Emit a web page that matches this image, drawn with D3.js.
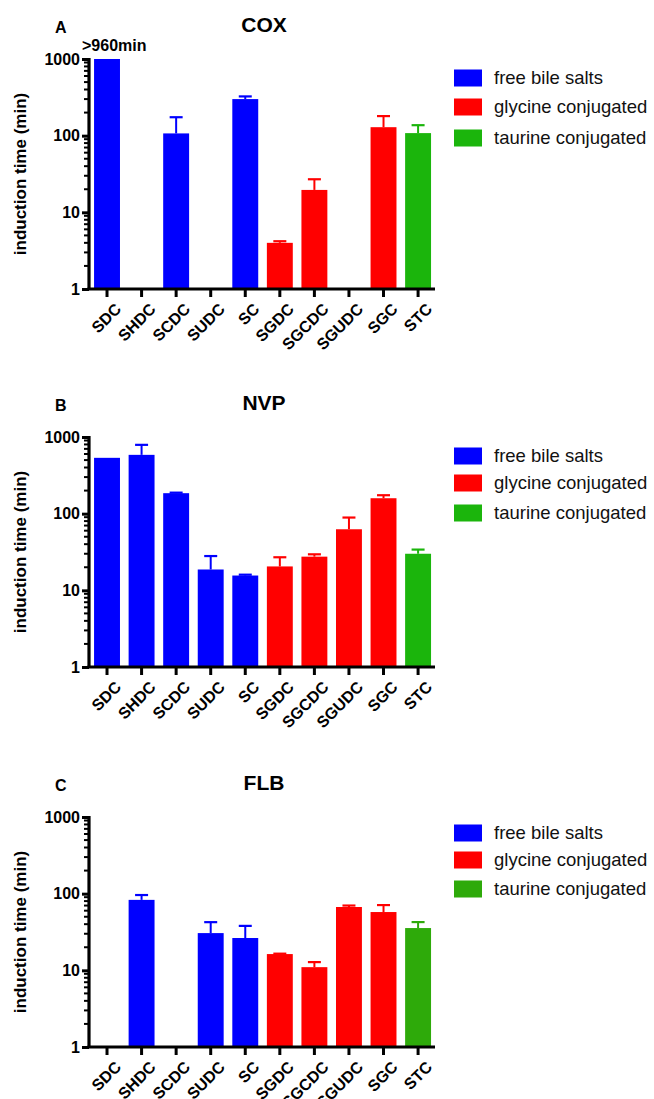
<!DOCTYPE html>
<html>
<head>
<meta charset="utf-8">
<script src="https://cdn.jsdelivr.net/npm/d3@7"></script>
<style>
  body { margin: 0; background: #fff; }
  svg text { font-family: Arial, "Liberation Sans", sans-serif; }
</style>
</head>
<body>
<svg id="chart" width="654" height="1099"></svg>
<script>
const categories = ["SDC", "SHDC", "SCDC", "SUDC", "SC", "SGDC", "SGCDC", "SGUDC", "SGC", "STC"];
const groups = ["free", "free", "free", "free", "free", "glycine", "glycine", "glycine", "glycine", "taurine"];
const legendLabels = ["free bile salts", "glycine conjugated", "taurine conjugated"];
const yTicks = [1, 10, 100, 1000];

// mean and upper error (SEM) per bile salt, null = no induction
const coxMean = [1000, null, 107, null, 300, 4.0, 19.6, null, 129, 108];
const coxErr  = [null, null, 174, null, 325, 4.2, 27, null, 180, 137];
const nvpMean = [535, 585, 185, 18.7, 15.6, 20.5, 27.5, 62.6, 159, 30];
const nvpErr  = [null, 790, 188, 28, 16, 27, 29.5, 89, 174, 34];
const flbMean = [null, 83, null, 30.6, 26.4, 16.3, 11, 67, 57.6, 35.6];
const flbErr  = [null, 96, null, 42.5, 38, 16.5, 12.8, 70, 71, 42.6];

const panels = [
  {letter: "A", title: "COX", mean: coxMean, err: coxErr, top: 59, green: "#1bb50c", note: ">960min", legendY: [78, 107, 138]},
  {letter: "B", title: "NVP", mean: nvpMean, err: nvpErr, top: 437, green: "#1bb50c", legendY: [456, 483, 513]},
  {letter: "C", title: "FLB", mean: flbMean, err: flbErr, top: 817, green: "#2eaa0a", legendY: [833, 860, 889]}
];

const svg = d3.select("#chart");
const axisX = 89;

let x = d3.scaleBand()
  .domain(categories)
  .range([90.6, 434.5])
  .paddingInner(0.25)
  .paddingOuter(0.1);

panels.forEach(p => {
  let bottom = p.top + 230;
  let color = d3.scaleOrdinal()
    .domain(["free", "glycine", "taurine"])
    .range(["#0000ff", "#ff0000", p.green]);

  let y = d3.scaleLog()
    .domain([1, 1000])
    .range([bottom, p.top]);

  let g = svg.append("g");

  // bars
  let rows = categories.map((c, i) => ({cat: c, group: groups[i], mean: p.mean[i], err: p.err[i]}))
    .filter(d => d.mean != null);

  g.selectAll("rect.bar")
    .data(rows)
    .enter()
    .append("rect")
    .attr("class", "bar")
    .attr("x", d => x(d.cat))
    .attr("width", x.bandwidth())
    .attr("y", d => y(d.mean))
    .attr("height", d => bottom - y(d.mean))
    .attr("fill", d => color(d.group));

  // error bars (upper only)
  let eb = rows.filter(d => d.err != null);
  g.selectAll("line.err")
    .data(eb)
    .enter()
    .append("line")
    .attr("x1", d => x(d.cat) + x.bandwidth() / 2)
    .attr("x2", d => x(d.cat) + x.bandwidth() / 2)
    .attr("y1", d => y(d.mean))
    .attr("y2", d => y(d.err))
    .attr("stroke", d => color(d.group))
    .attr("stroke-width", 2);
  g.selectAll("line.cap")
    .data(eb)
    .enter()
    .append("line")
    .attr("x1", d => x(d.cat) + x.bandwidth() / 2 - 6.5)
    .attr("x2", d => x(d.cat) + x.bandwidth() / 2 + 6.5)
    .attr("y1", d => y(d.err))
    .attr("y2", d => y(d.err))
    .attr("stroke", d => color(d.group))
    .attr("stroke-width", 2.2);

  // y axis with minor log ticks
  let minor = [];
  for (let dec = 1; dec < 1000; dec *= 10) {
    for (let k = 2; k <= 9; k++) minor.push(dec * k);
  }
  g.selectAll("line.minor")
    .data(minor)
    .enter()
    .append("line")
    .attr("x1", axisX - 5)
    .attr("x2", axisX)
    .attr("y1", d => y(d))
    .attr("y2", d => y(d))
    .attr("stroke", "#000")
    .attr("stroke-width", 2);

  let yAxis = g.append("g")
    .attr("transform", `translate(${axisX},0)`)
    .call(d3.axisLeft(y).tickValues(yTicks).tickFormat(d3.format("d")).tickSize(7).tickPadding(2));
  yAxis.select(".domain").attr("stroke-width", 3.2).attr("d", `M0,${p.top - 1}V${bottom}`);
  yAxis.selectAll(".tick line").attr("stroke-width", 3);
  yAxis.selectAll(".tick text")
    .attr("font-size", 16)
    .attr("font-weight", "bold")
    .attr("fill", "#000")
    .attr("font-family", "Arial, 'Liberation Sans', sans-serif");

  // x axis
  let xAxis = g.append("g")
    .attr("transform", `translate(0,${bottom})`)
    .call(d3.axisBottom(x).tickSize(8).tickSizeOuter(0).tickFormat(""));
  xAxis.select(".domain").attr("stroke-width", 3.2).attr("d", `M${axisX - 1.5},0H435`);
  xAxis.selectAll(".tick line").attr("stroke-width", 3);

  g.selectAll("text.xlab")
    .data(categories)
    .enter()
    .append("text")
    .attr("transform", d => `translate(${x(d) + x.bandwidth() / 2 + 7},${bottom + 13}) rotate(-45)`)
    .attr("text-anchor", "end")
    .attr("dy", "0.72em")
    .attr("font-size", 16)
    .attr("font-weight", "bold")
    .text(d => d);

  // y label
  g.append("text")
    .attr("transform", `translate(26,${(p.top + bottom) / 2}) rotate(-90)`)
    .attr("text-anchor", "middle")
    .attr("font-size", 17)
    .attr("font-weight", "bold")
    .text("induction time (min)");

  // title + panel letter
  g.append("text")
    .attr("x", 264)
    .attr("y", p.top - 27)
    .attr("text-anchor", "middle")
    .attr("font-size", 21)
    .attr("font-weight", "bold")
    .text(p.title);
  g.append("text")
    .attr("x", 55)
    .attr("y", p.top - 26)
    .attr("font-size", 16)
    .attr("font-weight", "bold")
    .text(p.letter);

  if (p.note) {
    g.append("text")
      .attr("x", 82)
      .attr("y", p.top - 8)
      .attr("font-size", 16)
      .attr("font-weight", "bold")
      .text(p.note);
  }

  // legend
  let lg = g.selectAll("g.leg")
    .data(legendLabels)
    .enter()
    .append("g")
    .attr("transform", (d, i) => `translate(454,${p.legendY[i]})`);
  lg.append("rect")
    .attr("x", 0)
    .attr("y", -8.5)
    .attr("width", 28)
    .attr("height", 17)
    .attr("fill", (d, i) => color(["free", "glycine", "taurine"][i]));
  lg.append("text")
    .attr("x", 40)
    .attr("dy", "0.35em")
    .attr("font-size", 18.5)
    .attr("fill", "#111")
    .text(d => d);
});
</script>
</body>
</html>
